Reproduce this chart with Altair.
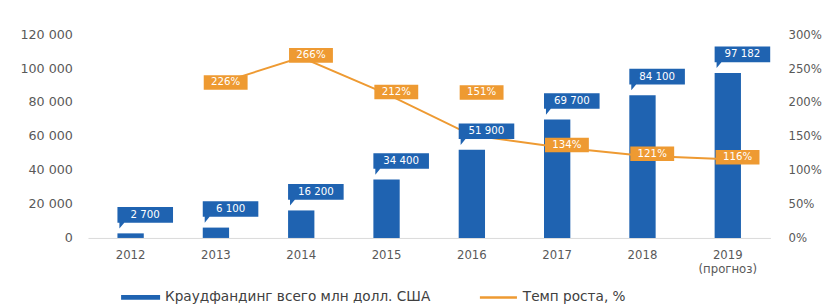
import altair as alt
import pandas as pd

years = ["2012", "2013", "2014", "2015", "2016", "2017", "2018", "2019"]
volume = [2700, 6100, 16200, 34400, 51900, 69700, 84100, 97182]
growth = [None, 226, 266, 212, 151, 134, 121, 116]
bar_series = "Краудфандинг всего млн долл. США"
line_series = "Темп роста, %"

BLUE = "#1F63B1"
ORANGE = "#EE9A32"
GREY = "#595959"
FONT = "DejaVu Sans"

df = pd.DataFrame({"year": years, "volume": volume, "growth": growth})
df["bar_series"] = bar_series
df["line_series"] = line_series

label_expr = "datum.value == '2019' ? ['2019', '(прогноз)'] : datum.value"

x_enc = alt.X(
    "year:N",
    sort=years,
    scale=alt.Scale(paddingInner=0.69, paddingOuter=0.345),
    axis=alt.Axis(
        title=None, labelAngle=0, ticks=False, domainColor="#D9D9D9",
        labelColor=GREY, labelFont=FONT, labelFontSize=12, labelPadding=12,
        labelExpr=label_expr, labelLineHeight=14,
    ),
)

left_scale = alt.Scale(domain=[0, 120000])
right_scale = alt.Scale(domain=[0, 300])
num_fmt = "replace(format(datum.value, ','), ',', ' ')"

base = alt.Chart(df)

bars = base.mark_bar(width=27).encode(
    x=x_enc,
    y=alt.Y("volume:Q", scale=left_scale, axis=alt.Axis(
        title=None, orient="left", values=list(range(0, 120001, 20000)),
        domain=False, ticks=False, grid=False, labelColor=GREY,
        labelFont=FONT, labelFontSize=13, labelPadding=16,
        labelExpr=num_fmt)),
    fill=alt.Fill("bar_series:N", scale=alt.Scale(range=[BLUE]), legend=alt.Legend(
        title=None, orient="none", legendX=47, legendY=263, padding=0,
        symbolType="M-4,-0.5H4V0.5H-4Z", symbolSize=100,
        symbolStrokeWidth=0, labelOffset=18, labelFont=FONT, labelFontSize=14,
        labelColor="#404040", labelLimit=400)),
)

line = base.transform_filter("isValid(datum.growth)").mark_line(
    strokeWidth=2).encode(
    x=x_enc,
    y=alt.Y("growth:Q", scale=right_scale, axis=alt.Axis(
        title=None, orient="right", values=list(range(0, 301, 50)),
        domain=False, ticks=False, grid=False, labelColor=GREY,
        labelFont=FONT, labelFontSize=12, labelPadding=18,
        labelExpr="datum.value + '%'")),
    stroke=alt.Stroke("line_series:N", scale=alt.Scale(range=[ORANGE]), legend=alt.Legend(
        title=None, orient="none", legendX=414, legendY=263, padding=0,
        symbolType="M-3.8,0H3.8", symbolSize=100, symbolStrokeWidth=2.5,
        labelOffset=18, labelFont=FONT, labelFontSize=14, labelColor="#404040",
        labelLimit=300)),
)

callout = "M-1.35,-2.7L4.35,-2.7L4.35,-1.1L-0.65,-1.1L-1.15,-0.5L-1.15,-1.1L-1.35,-1.1Z"
y_l = alt.Y("volume:Q", scale=left_scale, axis=None)
bar_box = base.mark_point(shape=callout, size=400, filled=True, fill=BLUE,
                          opacity=1, strokeWidth=0).encode(x=x_enc, y=y_l)
bar_txt = base.transform_calculate(
    lbl="replace(format(datum.volume, ','), ',', ' ')").mark_text(
    dx=15, dy=-19, color="white", font=FONT, fontSize=10.5, baseline="middle",
    align="center").encode(x=x_enc, y=y_l, text="lbl:N")

obox = "M-1.25,-0.95L3.25,-0.95L3.25,0.55L-1.25,0.55Z"
obox_up = "M-1.25,-5.15L3.25,-5.15L3.25,-3.65L-1.25,-3.65Z"
gbase = base.transform_filter("isValid(datum.growth)").transform_calculate(
    glbl="datum.growth + '%'")
normal = gbase.transform_filter("datum.year != '2016'")
raised = gbase.transform_filter("datum.year == '2016'")
y_r = alt.Y("growth:Q", scale=right_scale, axis=None)

g_box = normal.mark_point(shape=obox, size=400, filled=True, fill=ORANGE,
                          opacity=1, strokeWidth=0).encode(x=x_enc, y=y_r)
g_txt = normal.mark_text(dx=10, dy=-2, color="white", font=FONT, fontSize=10.5,
                         baseline="middle", align="center").encode(
    x=x_enc, y=y_r, text="glbl:N")
g_box2 = raised.mark_point(shape=obox_up, size=400, filled=True, fill=ORANGE,
                           opacity=1, strokeWidth=0).encode(x=x_enc, y=y_r)
g_txt2 = raised.mark_text(dx=10, dy=-44, color="white", font=FONT, fontSize=10.5,
                          baseline="middle", align="center").encode(
    x=x_enc, y=y_r, text="glbl:N")

left_labels = alt.layer(bar_box, bar_txt)
right_labels = alt.layer(g_box, g_txt, g_box2, g_txt2)

chart = alt.layer(bars, line, left_labels, right_labels).resolve_scale(
    y="independent", fill="independent", stroke="independent"
).properties(
    width=700, height=209,
    padding={"left": 12, "top": 17, "right": 5, "bottom": 0},
).configure(background="white").configure_view(stroke=None)

chart.save("out.html", embed_options={"renderer": "svg", "actions": False})
